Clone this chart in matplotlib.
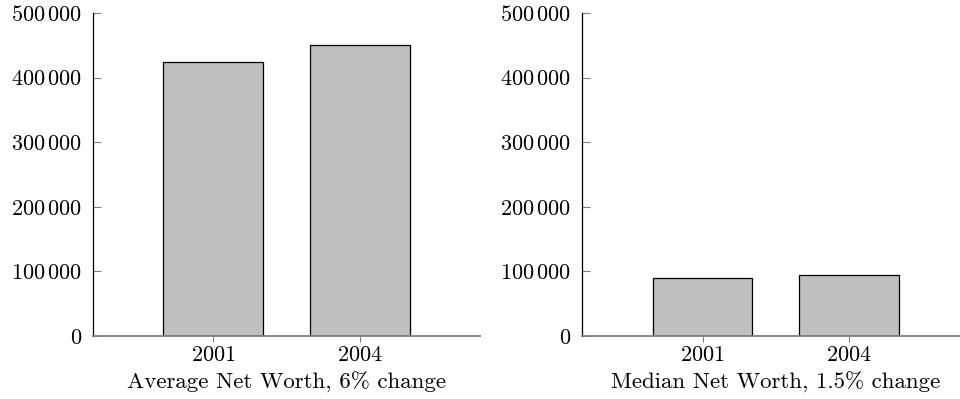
import matplotlib
matplotlib.use('Agg')
import matplotlib.pyplot as plt

# data
years = ['2001', '2004']
avg_worth = [425000, 450000]
median_worth = [90000, 95000]
yticks = [0, 100000, 200000, 300000, 400000, 500000]
ytick_labels = ['$0$', r'$100\,000$', r'$200\,000$', r'$300\,000$', r'$400\,000$', r'$500\,000$']
titles = ['Average Net Worth, 6% change', 'Median Net Worth, 1.5% change']

plt.rcParams['font.family'] = ['cmr10']
plt.rcParams['mathtext.fontset'] = 'cm'
plt.rcParams['axes.unicode_minus'] = False

fig = plt.figure(figsize=(9.6, 3.99), dpi=100)
ax1 = fig.add_axes([0.0969, 0.158, 0.403, 0.809])
ax2 = fig.add_axes([0.6066, 0.158, 0.403, 0.809])

for ax, vals, label in zip([ax1, ax2], [avg_worth, median_worth], titles):
    x = list(range(len(years)))
    ax.bar(x, vals, width=0.68, color='#bfbfbf', edgecolor='black', linewidth=0.9, zorder=2)
    ax.set_xlim(-0.82, 1.82)
    ax.set_ylim(0, 500000)
    ax.set_xticks(x)
    ax.set_xticklabels(['$%s$' % y for y in years], fontsize=16)
    ax.set_yticks(yticks)
    ax.set_yticklabels(ytick_labels, fontsize=16)
    ax.set_xlabel(label, fontsize=16.5, labelpad=5)

    # axis lines only on left and bottom
    ax.spines['top'].set_visible(False)
    ax.spines['right'].set_visible(False)
    ax.spines['left'].set_color('black')
    ax.spines['left'].set_linewidth(0.9)
    ax.spines['bottom'].set_color('#808080')
    ax.spines['bottom'].set_linewidth(1.3)
    ax.spines['bottom'].set_zorder(3)
    ax.tick_params(axis='y', direction='in', length=6, width=0.8, color='#808080', pad=8)
    ax.tick_params(axis='x', direction='out', length=4, width=0.8, color='#808080', pad=2.5)

plt.savefig('out.png', dpi=100)
